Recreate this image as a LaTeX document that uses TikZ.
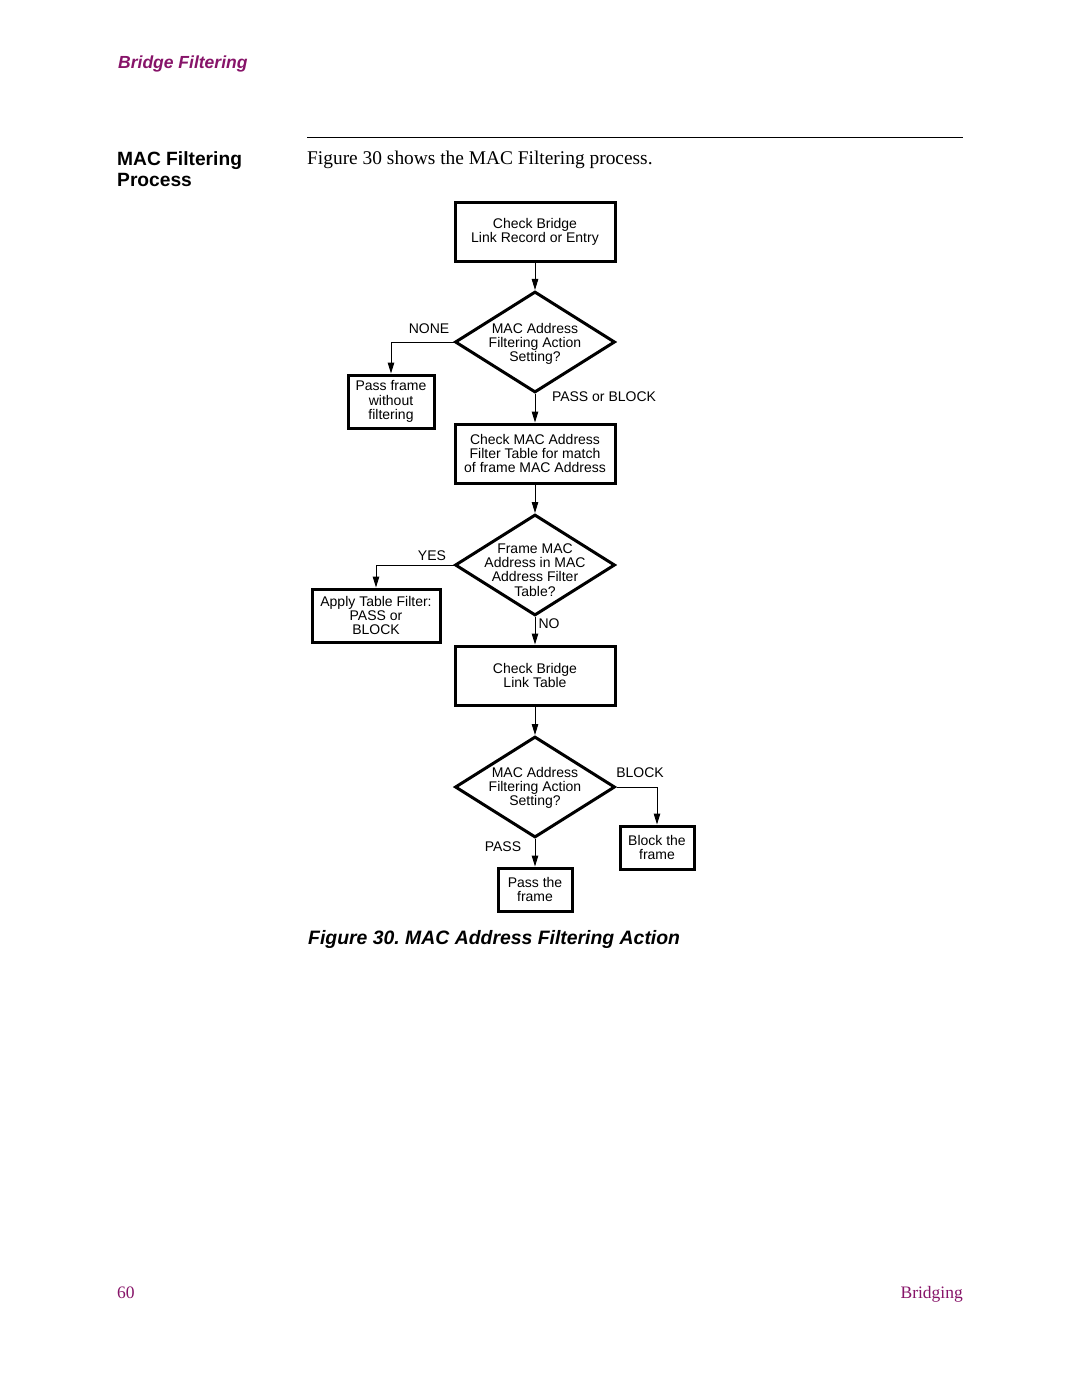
\documentclass[tikz,border=0pt]{standalone}
\usepackage{fontspec}
\setmainfont{Liberation Serif}
\setsansfont{Liberation Sans}
\usetikzlibrary{shapes.geometric,arrows.meta}
\definecolor{hdpurple}{RGB}{135,20,105}
\frenchspacing
\tikzset{
  fc/.style={font=\sffamily\fontsize{14}{14.2}\selectfont, align=center},
  box/.style={fc, draw, line width=3pt, inner sep=0pt},
  dia/.style={draw, shape=diamond, line width=3pt, inner sep=0pt, minimum width=160pt, minimum height=101pt},
  dtext/.style={fc, inner sep=0pt},
  lbl/.style={font=\sffamily\fontsize{14}{14.2}\selectfont, inner sep=0pt},
  arr/.style={line width=1pt, -{Triangle[length=11pt,width=6.5pt]}},
  conn/.style={line width=1pt}
}
\begin{document}
\begin{tikzpicture}[x=1pt,y=-1pt]
\useasboundingbox (0,0) rectangle (1080,1397);
\fill[white] (0,0) rectangle (1080,1397);

% page header / text
\node[anchor=base west, inner sep=0pt, text=hdpurple, font=\sffamily\bfseries\itshape\fontsize{17.5}{20}\selectfont] (hdr) at (118,69) {Bridge Filtering};
\node[anchor=base west, inner sep=0pt, font=\sffamily\bfseries\fontsize{19.2}{21.5}\selectfont, align=left] (sec) at (117,165) {MAC Filtering};
\node[anchor=base west, inner sep=0pt, font=\sffamily\bfseries\fontsize{19.2}{21.5}\selectfont] (sec2) at (117,186) {Process};
\coordinate (rl) at (307,137);
\coordinate (rr) at (963,137);
\draw[line width=1pt] (rl) -- (rr);
\node[anchor=base west, inner sep=0pt, font=\rmfamily\fontsize{19.4}{21}\selectfont] (intro) at (307,164) {Figure 30 shows the MAC Filtering process.};

% flowchart
\node[box, minimum width=160pt, minimum height=59pt] (b1) at (535,231.5) {Check Bridge\\Link Record or Entry};
\node[dia] (d1) at (535,342) {};
\node[dtext] (d1t) at (535,344) {MAC Address\\Filtering Action\\Setting?};
\node[box, minimum width=86pt, minimum height=53pt] (p1) at (391,401.5) {Pass frame\\without\\filtering};
\node[box, minimum width=160pt, minimum height=59pt] (b2) at (535,453.5) {Check MAC Address\\Filter Table for match\\of frame MAC Address};
\node[dia] (d2) at (535,565) {};
\node[dtext] (d2t) at (535,570) {Frame MAC\\Address in MAC\\Address Filter\\Table?};
\node[box, minimum width=128pt, minimum height=53pt] (ap) at (376,615.5) {Apply Table Filter:\\PASS or\\BLOCK};
\node[box, minimum width=160pt, minimum height=59pt] (b3) at (535,675.5) {Check Bridge\\Link Table};
\node[dia] (d3) at (535,787) {};
\node[dtext] (d3t) at (535,788) {MAC Address\\Filtering Action\\Setting?};
\node[box, minimum width=74pt, minimum height=43pt] (bl) at (657,847.5) {Block the\\frame};
\node[box, minimum width=74pt, minimum height=43pt] (ps) at (535,889.5) {Pass the\\frame};

% connectors
\draw[arr] (b1) -- (d1);
\draw[arr] (d1.west) -| (p1.north);
\draw[arr] (d1) -- (b2);
\draw[arr] (b2) -- (d2);
\draw[arr] (d2.west) -| (ap.north);
\draw[arr] (d2) -- (b3);
\draw[arr] (b3) -- (d3);
\draw[arr] (d3.east) -| (bl.north);
\draw[arr] (d3) -- (ps);

% connector labels
\node[lbl] (lnone) at (429,329) {NONE};
\node[lbl] (lpb) at (604,397) {PASS or BLOCK};
\node[lbl] (lyes) at (432,556) {YES};
\node[lbl] (lno) at (549,624) {NO};
\node[lbl] (lblock) at (640,773) {BLOCK};
\node[lbl] (lpass) at (503,847) {PASS};

% caption
\node[anchor=base west, inner sep=0pt, font=\sffamily\bfseries\itshape\fontsize{19.4}{22}\selectfont] (cap) at (308,944) {Figure 30. MAC Address Filtering Action};

% footer
\node[anchor=base west, inner sep=0pt, text=hdpurple, font=\rmfamily\fontsize{17.5}{20}\selectfont] (pg) at (117,1298) {60};
\node[anchor=base east, inner sep=0pt, text=hdpurple, font=\rmfamily\fontsize{17.5}{20}\selectfont] (ft) at (963,1298) {Bridging};
\end{tikzpicture}
\end{document}
